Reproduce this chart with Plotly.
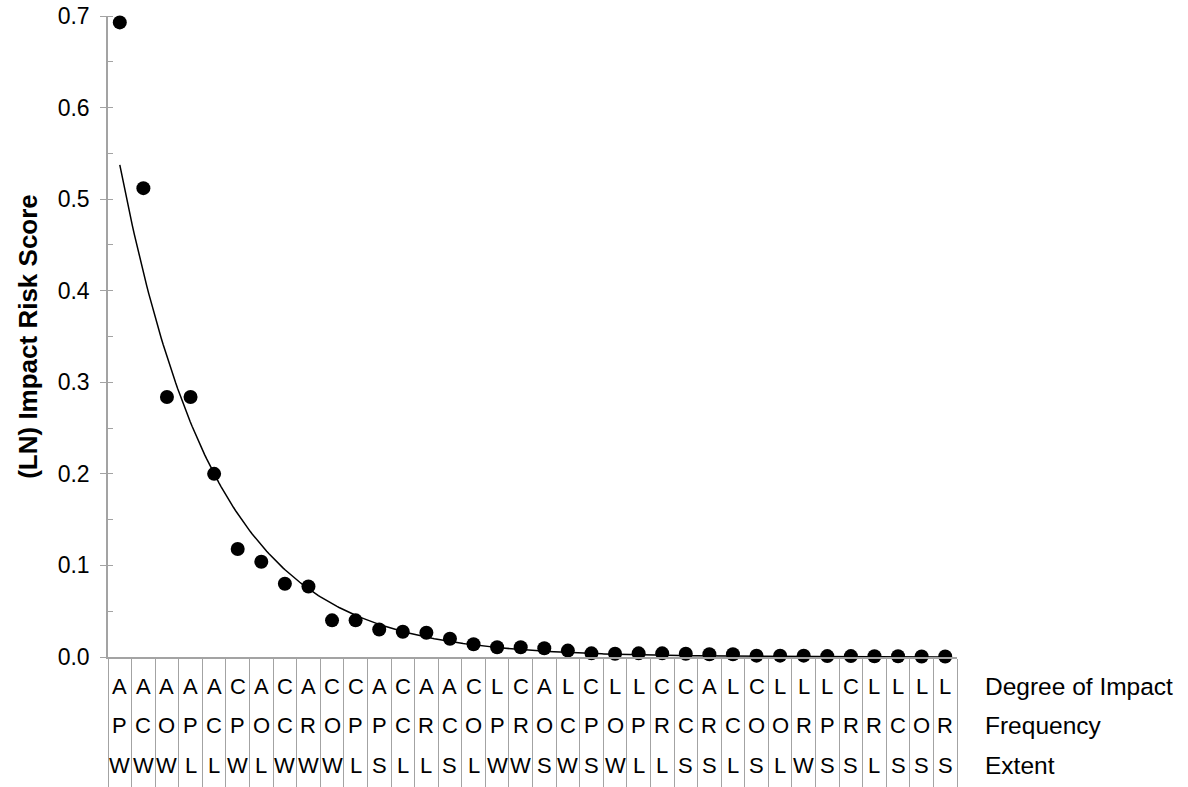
import numpy as np
import plotly.graph_objects as go

# ---- data ----
degree_of_impact = list("AAAAACACACCACAACLCALCLLCCALCLLLCLLLL")
frequency = list("PCOPCPOCROPPCRCOPROCPOPRCRCOORPRRCOR")
extent = list("WWWLLWLWWWLSLLSLWWSWSWLLSSLSLWSSLSSS")
risk_score = [0.693, 0.512, 0.284, 0.284, 0.200, 0.118, 0.104, 0.080, 0.077,
              0.040, 0.040, 0.030, 0.0276, 0.0265, 0.020, 0.014, 0.0106, 0.0106,
              0.0095, 0.007, 0.004, 0.0035, 0.004, 0.004, 0.0035, 0.003, 0.003,
              0.0015, 0.0015, 0.0015, 0.001, 0.001, 0.0008, 0.0008, 0.0005, 0.0005]
row_labels = ["Degree of Impact", "Frequency", "Extent"]
y_ticks = [0.0, 0.1, 0.2, 0.3, 0.4, 0.5, 0.6, 0.7]
# exponential trendline y = a*exp(b*x), parameters
trend_a = 0.688
trend_b = -0.247

n = len(risk_score)
x_pos = list(range(1, n + 1))
gray = "#a3a3a3"
font_family = "Liberation Sans, Arial, Helvetica, sans-serif"

fig = go.Figure()

xs = np.linspace(1, n, 400)
fig.add_trace(go.Scatter(x=xs, y=trend_a * np.exp(trend_b * xs), mode="lines",
                         line=dict(color="black", width=1.5), hoverinfo="skip",
                         showlegend=False))
fig.add_trace(go.Scatter(x=x_pos, y=risk_score, mode="markers",
                         marker=dict(color="black", size=14),
                         showlegend=False, cliponaxis=False))

boundaries = [i + 0.5 for i in range(0, n + 1)]
fig.update_xaxes(range=[0.5, n + 0.5], tickmode="array", tickvals=boundaries,
                 showticklabels=False, ticks="outside", ticklen=130, tickwidth=1,
                 tickcolor=gray, showline=True, linecolor=gray, linewidth=1.5,
                 showgrid=False, zeroline=False, automargin=False)
fig.update_yaxes(range=[0, 0.7], tickmode="array", tickvals=y_ticks,
                 ticktext=[f"{v:.1f}" for v in y_ticks],
                 ticks="outside", ticklen=6, tickcolor=gray, tickwidth=1,
                 minor=dict(ticks="inside", dtick=0.05, ticklen=5, tickcolor=gray),
                 showline=True, linecolor=gray, linewidth=1.5, showgrid=False,
                 zeroline=False, tickfont=dict(size=23, color="black"),
                 ticklabelstandoff=6, automargin=False,
                 title=dict(text="<b>(LN) Impact Risk Score</b>",
                            font=dict(size=26, color="black"), standoff=13))

rows = [degree_of_impact, frequency, extent]
row_shift = [-29, -68, -108]
for r, letters in enumerate(rows):
    for i, ch in enumerate(letters):
        fig.add_annotation(x=x_pos[i], y=0, xref="x", yref="paper", text=ch,
                           showarrow=False, yanchor="middle", yshift=row_shift[r],
                           font=dict(size=22, color="black"))
    fig.add_annotation(x=1, y=0, xref="paper", yref="paper", text=row_labels[r],
                       showarrow=False, xanchor="left", yanchor="middle",
                       xshift=26, yshift=row_shift[r],
                       font=dict(size=24.5, color="black"))

fig.update_layout(width=1188, height=787, autosize=False,
                  margin=dict(l=108, r=231, t=16, b=130, autoexpand=False),
                  plot_bgcolor="white", paper_bgcolor="white",
                  font=dict(family=font_family, color="black"))

fig.write_html("out.html")
